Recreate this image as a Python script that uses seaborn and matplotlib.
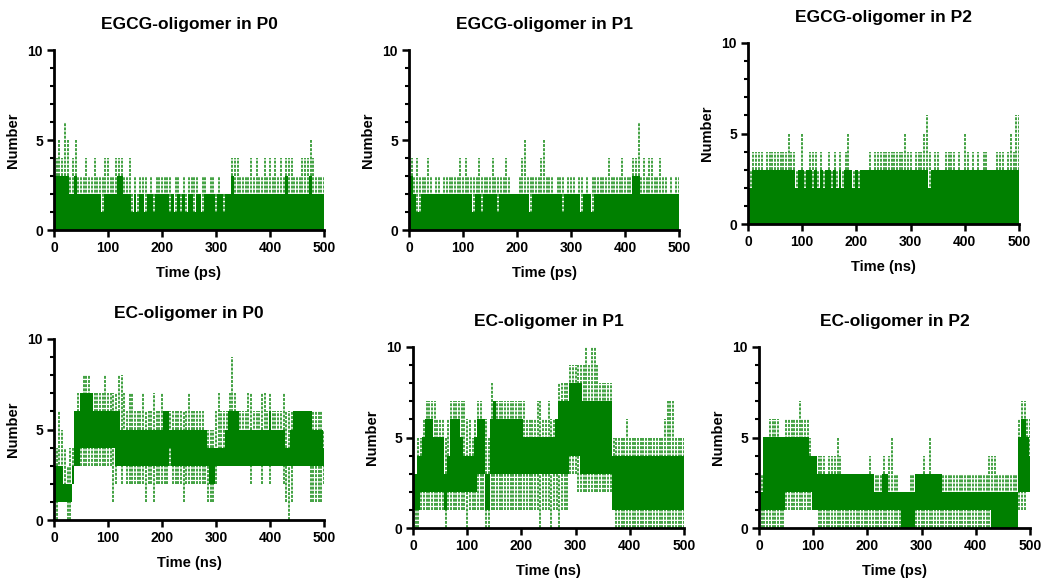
import numpy as np
import pandas as pd
import matplotlib
matplotlib.use("Agg")
import matplotlib.pyplot as plt
from matplotlib.ticker import MultipleLocator
import seaborn as sns

# ---------------- data (time grid 0..500, step 5) ----------------
time = list(range(0, 501, 5))

titles = ["EGCG-oligomer in P0", "EGCG-oligomer in P1", "EGCG-oligomer in P2",
          "EC-oligomer in P0", "EC-oligomer in P1", "EC-oligomer in P2"]
xlabels = ["Time (ps)", "Time (ps)", "Time (ns)",
           "Time (ns)", "Time (ns)", "Time (ps)"]
ylabel = "Number"
xticks = [0, 100, 200, 300, 400, 500]
yticks = [0, 5, 10]

# EGCG-oligomer in P0
p0_egcg_hi = [4, 4, 5, 4, 6, 5, 3, 4, 5, 3,
              3, 3, 4, 3, 3, 4, 3, 3, 3, 4,
              4, 3, 3, 4, 4, 4, 3, 3, 4, 2,
              3, 2, 3, 3, 3, 2, 3, 2, 3, 3,
              3, 3, 3, 3, 2, 3, 3, 2, 3, 2,
              3, 3, 3, 3, 2, 3, 3, 2, 3, 3,
              2, 3, 2, 2, 2, 2, 4, 4, 4, 3,
              3, 3, 3, 4, 3, 4, 3, 3, 4, 3,
              4, 3, 4, 3, 4, 3, 4, 4, 4, 3,
              3, 3, 4, 4, 4, 5, 4, 3, 3, 3,
              3]
p0_egcg_core_hi = [3, 3, 3, 3, 3, 3, 2, 2, 3, 2,
                   2, 2, 2, 2, 2, 2, 2, 2, 1, 2,
                   2, 2, 2, 2, 3, 3, 2, 2, 2, 1,
                   2, 1, 2, 2, 1, 2, 2, 1, 2, 2,
                   2, 2, 2, 1, 2, 1, 2, 1, 2, 1,
                   2, 2, 1, 2, 2, 1, 2, 2, 2, 2,
                   1, 2, 2, 1, 2, 2, 3, 2, 2, 2,
                   2, 2, 2, 2, 2, 2, 2, 2, 2, 2,
                   2, 2, 2, 2, 2, 2, 3, 2, 2, 2,
                   2, 2, 2, 2, 2, 3, 2, 2, 2, 2,
                   2]
p0_egcg_core_lo = [0] * 101
p0_egcg_lo = [0] * 101

# EGCG-oligomer in P1
p1_egcg_hi = [3, 4, 3, 4, 3, 3, 3, 4, 3, 2,
              3, 3, 2, 3, 3, 3, 3, 3, 3, 4,
              3, 4, 3, 3, 3, 3, 4, 3, 3, 3,
              3, 4, 3, 3, 3, 3, 4, 3, 2, 2,
              2, 3, 4, 5, 3, 3, 3, 3, 3, 4,
              5, 3, 3, 3, 2, 3, 3, 3, 2, 3,
              3, 3, 2, 3, 3, 2, 3, 2, 3, 3,
              3, 3, 3, 3, 4, 3, 3, 3, 3, 4,
              3, 3, 3, 4, 4, 6, 3, 4, 3, 4,
              4, 3, 3, 4, 3, 3, 2, 3, 2, 3,
              3]
p1_egcg_core_hi = [3, 3, 2, 1, 1, 2, 2, 2, 2, 2,
                   2, 2, 2, 2, 2, 2, 2, 2, 2, 2,
                   2, 2, 2, 2, 1, 2, 2, 1, 2, 2,
                   2, 2, 2, 1, 2, 2, 2, 2, 2, 2,
                   2, 2, 2, 2, 2, 1, 2, 2, 2, 2,
                   2, 2, 2, 2, 2, 2, 2, 1, 2, 2,
                   2, 2, 2, 2, 1, 2, 2, 2, 1, 2,
                   2, 2, 2, 2, 2, 2, 2, 2, 2, 2,
                   2, 2, 2, 3, 3, 3, 2, 2, 2, 2,
                   2, 2, 2, 2, 2, 2, 2, 2, 2, 2,
                   2]
p1_egcg_core_lo = [0] * 101
p1_egcg_lo = [0] * 101

# EGCG-oligomer in P2
p2_egcg_hi = [2, 3, 4, 4, 4, 4, 3, 4, 4, 4,
              4, 4, 4, 4, 4, 5, 4, 4, 3, 3,
              5, 3, 3, 4, 4, 4, 3, 4, 3, 3,
              4, 3, 4, 3, 4, 3, 4, 5, 3, 3,
              3, 3, 3, 3, 3, 4, 3, 4, 4, 4,
              4, 4, 4, 4, 4, 4, 4, 4, 5, 4,
              4, 3, 4, 4, 4, 5, 6, 4, 3, 4,
              4, 3, 3, 4, 4, 4, 4, 3, 4, 3,
              5, 4, 3, 4, 3, 4, 3, 4, 4, 3,
              3, 3, 4, 4, 4, 3, 4, 5, 4, 6,
              6]
p2_egcg_core_hi = [2, 2, 3, 3, 3, 3, 3, 3, 3, 3,
                   3, 3, 3, 3, 3, 3, 3, 3, 2, 3,
                   3, 2, 3, 3, 2, 3, 2, 3, 2, 3,
                   3, 2, 3, 2, 3, 2, 3, 3, 3, 2,
                   3, 2, 3, 3, 3, 3, 3, 3, 3, 3,
                   3, 3, 3, 3, 3, 3, 3, 3, 3, 3,
                   3, 3, 3, 3, 3, 3, 3, 2, 3, 3,
                   3, 3, 3, 3, 3, 3, 3, 3, 3, 3,
                   3, 3, 3, 3, 3, 3, 3, 3, 3, 3,
                   3, 3, 3, 3, 3, 3, 3, 3, 3, 3,
                   3]
p2_egcg_core_lo = [0] * 101
p2_egcg_lo = [0] * 101

# EC-oligomer in P0
p0_ec_hi = [3, 4, 6, 5, 4, 3, 4, 4, 6, 7,
            7, 8, 8, 8, 7, 7, 7, 7, 7, 8,
            7, 7, 7, 7, 8, 8, 7, 6, 7, 7,
            6, 6, 6, 7, 6, 6, 6, 7, 6, 6,
            7, 6, 6, 6, 6, 6, 6, 6, 6, 6,
            7, 6, 6, 6, 6, 6, 5, 5, 5, 5,
            6, 7, 6, 6, 6, 7, 9, 7, 6, 6,
            6, 6, 7, 7, 6, 6, 6, 7, 7, 6,
            7, 6, 6, 6, 6, 7, 6, 6, 6, 6,
            6, 6, 6, 6, 6, 6, 6, 6, 6, 6,
            5]
p0_ec_core_hi = [2, 3, 3, 3, 2, 2, 2, 3, 6, 6,
                 7, 7, 7, 7, 7, 6, 6, 6, 6, 6,
                 6, 6, 6, 6, 6, 5, 5, 5, 5, 5,
                 5, 5, 5, 5, 5, 5, 5, 5, 5, 5,
                 5, 6, 6, 5, 5, 5, 5, 5, 5, 5,
                 5, 5, 5, 5, 5, 5, 5, 4, 4, 4,
                 4, 4, 4, 4, 5, 6, 6, 6, 6, 5,
                 5, 5, 5, 5, 5, 5, 5, 5, 5, 5,
                 6, 5, 5, 5, 5, 5, 4, 4, 5, 6,
                 6, 6, 6, 6, 6, 6, 5, 5, 5, 5,
                 4]
p0_ec_core_lo = [1, 1, 1, 1, 1, 1, 1, 2, 3, 3,
                 4, 4, 4, 4, 4, 4, 4, 4, 4, 4,
                 4, 4, 4, 3, 3, 3, 3, 3, 3, 3,
                 3, 3, 3, 3, 3, 3, 3, 3, 3, 3,
                 3, 3, 3, 4, 3, 3, 3, 3, 3, 3,
                 3, 3, 3, 3, 3, 3, 3, 3, 2, 2,
                 3, 3, 3, 3, 3, 3, 3, 3, 3, 3,
                 3, 3, 3, 3, 3, 3, 3, 3, 3, 3,
                 3, 3, 3, 3, 3, 3, 3, 3, 3, 3,
                 3, 3, 3, 3, 3, 3, 3, 3, 3, 3,
                 3]
p0_ec_lo = [0, 0, 1, 1, 1, 0, 0, 2, 3, 3,
            3, 3, 3, 3, 3, 3, 3, 3, 3, 3,
            3, 3, 1, 2, 3, 2, 3, 2, 2, 2,
            2, 2, 2, 2, 1, 2, 2, 1, 2, 2,
            2, 2, 2, 3, 2, 2, 2, 2, 1, 2,
            2, 2, 2, 2, 2, 2, 2, 1, 1, 1,
            2, 3, 3, 3, 3, 3, 3, 3, 3, 3,
            3, 3, 3, 2, 3, 3, 3, 2, 3, 3,
            2, 3, 3, 3, 3, 2, 1, 0, 1, 3,
            3, 3, 3, 3, 3, 1, 1, 1, 1, 1,
            2]

# EC-oligomer in P1
p1_ec_hi = [3, 3, 5, 5, 6, 7, 7, 7, 7, 6,
            6, 6, 5, 6, 7, 7, 7, 7, 7, 7,
            6, 6, 5, 6, 7, 7, 6, 6, 5, 8,
            7, 7, 7, 7, 7, 7, 7, 7, 7, 7,
            7, 7, 6, 6, 6, 6, 7, 7, 6, 6,
            7, 6, 6, 6, 8, 8, 8, 8, 9, 9,
            9, 9, 9, 9, 10, 9, 10, 10, 9, 8,
            8, 8, 8, 8, 5, 5, 5, 5, 5, 6,
            5, 5, 5, 5, 5, 5, 5, 5, 5, 5,
            5, 5, 5, 6, 7, 7, 7, 5, 5, 5,
            5]
p1_ec_core_hi = [2, 3, 4, 4, 5, 6, 6, 6, 5, 5,
                 5, 5, 3, 4, 6, 6, 6, 6, 5, 4,
                 4, 4, 4, 5, 6, 6, 6, 3, 3, 6,
                 7, 6, 6, 6, 6, 6, 6, 6, 6, 6,
                 6, 5, 5, 5, 5, 5, 5, 5, 5, 5,
                 5, 5, 5, 6, 7, 7, 7, 7, 8, 8,
                 8, 8, 8, 7, 7, 7, 7, 7, 7, 7,
                 7, 7, 7, 7, 4, 4, 4, 4, 4, 4,
                 4, 4, 4, 4, 4, 4, 4, 4, 4, 4,
                 4, 4, 4, 4, 4, 4, 4, 4, 4, 4,
                 4]
p1_ec_core_lo = [1, 1, 1, 2, 2, 2, 2, 2, 2, 2,
                 2, 2, 1, 2, 2, 2, 2, 2, 2, 2,
                 2, 2, 2, 2, 3, 3, 3, 1, 1, 3,
                 3, 3, 3, 3, 3, 3, 3, 3, 3, 3,
                 3, 3, 3, 3, 3, 3, 3, 3, 3, 3,
                 3, 3, 3, 3, 3, 3, 3, 3, 4, 4,
                 4, 4, 3, 3, 3, 3, 3, 3, 3, 3,
                 3, 3, 3, 3, 1, 1, 1, 1, 1, 1,
                 1, 1, 1, 1, 1, 1, 1, 1, 1, 1,
                 1, 1, 1, 1, 1, 1, 1, 1, 1, 1,
                 1]
p1_ec_lo = [0, 0, 0, 1, 1, 1, 1, 1, 1, 1,
            1, 1, 0, 1, 1, 1, 1, 1, 1, 1,
            0, 1, 1, 1, 1, 1, 1, 0, 0, 1,
            1, 1, 1, 1, 1, 1, 1, 1, 1, 1,
            1, 1, 1, 1, 1, 1, 1, 0, 1, 1,
            1, 0, 1, 1, 0, 1, 1, 1, 3, 3,
            3, 2, 2, 2, 2, 2, 2, 2, 2, 2,
            2, 2, 2, 2, 1, 0, 0, 0, 0, 0,
            0, 0, 0, 0, 0, 0, 0, 0, 0, 0,
            0, 0, 0, 0, 0, 0, 0, 0, 0, 0,
            0]

# EC-oligomer in P2
p2_ec_hi = [3, 3, 5, 5, 6, 6, 6, 6, 5, 5,
            6, 6, 6, 6, 6, 7, 6, 6, 6, 5,
            4, 4, 4, 4, 4, 3, 4, 4, 4, 5,
            4, 3, 3, 3, 3, 3, 3, 3, 3, 3,
            3, 4, 3, 3, 3, 3, 4, 3, 4, 5,
            3, 3, 2, 2, 2, 2, 3, 3, 3, 3,
            3, 4, 3, 5, 3, 3, 3, 3, 3, 3,
            3, 3, 3, 3, 3, 3, 3, 3, 3, 3,
            3, 3, 3, 3, 3, 4, 4, 4, 3, 3,
            3, 3, 3, 3, 3, 3, 6, 7, 7, 6,
            6]
p2_ec_core_hi = [2, 2, 5, 5, 5, 5, 5, 5, 5, 5,
                 5, 5, 5, 5, 5, 5, 5, 5, 5, 4,
                 4, 4, 3, 3, 3, 3, 3, 3, 3, 3,
                 3, 3, 3, 3, 3, 3, 3, 3, 3, 3,
                 3, 3, 3, 2, 2, 2, 3, 3, 2, 2,
                 2, 2, 2, 2, 2, 2, 2, 2, 3, 3,
                 3, 3, 3, 3, 3, 3, 3, 3, 2, 2,
                 2, 2, 2, 2, 2, 2, 2, 2, 2, 2,
                 2, 2, 2, 2, 2, 2, 2, 2, 2, 2,
                 2, 2, 2, 2, 2, 2, 5, 6, 6, 5,
                 4]
p2_ec_core_lo = [1, 1, 1, 1, 1, 1, 1, 1, 1, 1,
                 2, 2, 2, 2, 2, 2, 2, 2, 2, 2,
                 1, 1, 1, 1, 1, 1, 1, 1, 1, 1,
                 1, 1, 1, 1, 1, 1, 1, 1, 1, 1,
                 1, 1, 1, 1, 1, 1, 1, 1, 1, 1,
                 1, 1, 1, 0, 0, 0, 0, 0, 1, 1,
                 1, 1, 1, 1, 1, 1, 1, 1, 1, 1,
                 1, 1, 1, 1, 1, 1, 1, 1, 1, 1,
                 1, 1, 1, 1, 1, 1, 0, 0, 0, 0,
                 0, 0, 0, 0, 0, 0, 2, 2, 2, 2,
                 2]
p2_ec_lo = [0, 0, 0, 0, 0, 0, 0, 0, 0, 0,
            1, 1, 1, 1, 1, 1, 1, 1, 1, 1,
            1, 1, 0, 0, 0, 0, 0, 0, 0, 0,
            0, 0, 0, 0, 0, 0, 0, 0, 0, 0,
            0, 0, 0, 0, 0, 0, 0, 0, 0, 0,
            0, 0, 0, 0, 0, 0, 0, 0, 0, 0,
            0, 0, 0, 0, 0, 0, 0, 0, 0, 0,
            0, 0, 0, 0, 0, 0, 0, 0, 0, 0,
            0, 0, 0, 0, 0, 0, 0, 0, 0, 0,
            0, 0, 0, 0, 0, 0, 1, 1, 1, 2,
            2]

panels = [
    (p0_egcg_lo, p0_egcg_core_lo, p0_egcg_core_hi, p0_egcg_hi),
    (p1_egcg_lo, p1_egcg_core_lo, p1_egcg_core_hi, p1_egcg_hi),
    (p2_egcg_lo, p2_egcg_core_lo, p2_egcg_core_hi, p2_egcg_hi),
    (p0_ec_lo, p0_ec_core_lo, p0_ec_core_hi, p0_ec_hi),
    (p1_ec_lo, p1_ec_core_lo, p1_ec_core_hi, p1_ec_hi),
    (p2_ec_lo, p2_ec_core_lo, p2_ec_core_hi, p2_ec_hi),
]

# ---------------- layout (pixels: left, top, right, bottom) ----------------
W, H = 1044, 583
boxes = [(54, 50, 324, 230), (409, 50, 679, 230), (748, 43, 1019, 224),
         (54, 339, 324, 520), (413, 347, 684, 528), (759, 347, 1030, 528)]

sns.set_theme(style="ticks")
plt.rcParams['font.family'] = ['Liberation Sans', 'DejaVu Sans']
plt.rcParams['font.weight'] = 'bold'
for key in ("text.color", "axes.labelcolor", "xtick.color", "ytick.color",
            "axes.edgecolor"):
    plt.rcParams[key] = "black"

GREEN = "#008000"
fig = plt.figure(figsize=(W / 100, H / 100), dpi=100)

for i, (lo, clo, chi, hi) in enumerate(panels):
    l, t, r, b = boxes[i]
    ax = fig.add_axes([l / W, (H - b) / H, (r - l) / W, (b - t) / H])

    # range of values visited in each window: dotted vertical traces
    rng = pd.DataFrame({
        "t": time + time,
        "v": list(lo) + list(hi),
        "u": list(range(len(time))) * 2,
    })
    sns.lineplot(data=rng, x="t", y="v", units="u", estimator=None,
                 color=GREEN, lw=1.3, linestyle=(0, (1.6, 0.7)), alpha=0.8,
                 ax=ax, legend=False)
    # dense core region
    ax.fill_between(time, clo, chi, step="mid", color=GREEN, lw=0)

    ax.set_xlim(0, 500)
    ax.set_ylim(0, 10)
    ax.set_xticks(xticks)
    ax.set_yticks(yticks)
    ax.yaxis.set_minor_locator(MultipleLocator(1))
    ax.tick_params(axis="both", which="major", length=5, width=1.8,
                   labelsize=10, pad=3, color="black", labelcolor="black")
    ax.tick_params(axis="y", which="minor", length=3, width=1.5, color="black")
    for lab in ax.get_xticklabels() + ax.get_yticklabels():
        lab.set_fontweight("bold")
    for s in ("left", "bottom"):
        ax.spines[s].set_linewidth(2)
        ax.spines[s].set_color("black")
    sns.despine(ax=ax)
    ax.set_xlabel(xlabels[i], fontsize=10.5, fontweight="bold", labelpad=8)
    ax.set_ylabel(ylabel, fontsize=10.5, fontweight="bold", labelpad=5)
    ax.set_title(titles[i], fontsize=12.5, fontweight="bold", pad=15)

fig.savefig("out.png", dpi=100)
